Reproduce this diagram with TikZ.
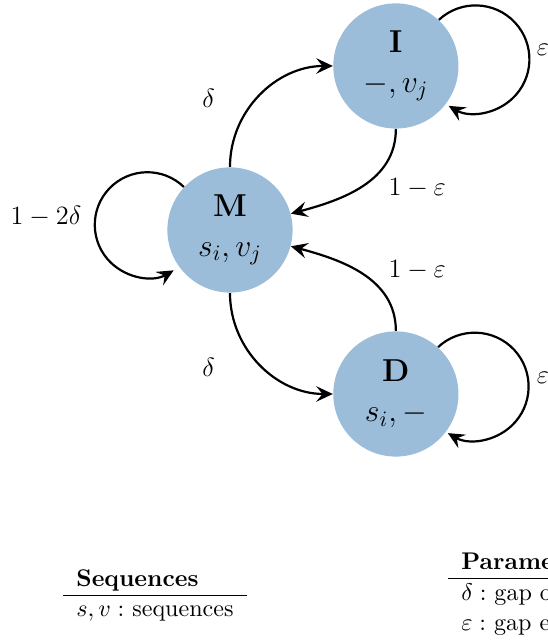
\documentclass[tikz,border=0pt]{standalone}
\usetikzlibrary{arrows.meta}
\definecolor{stateblue}{RGB}{155,189,217}
\begin{document}
\begin{tikzpicture}[
  state/.style={circle, fill=stateblue, minimum size=2cm, inner sep=0pt, align=center, font=\Large},
  trans/.style={line width=1pt, -{Stealth[length=7.5pt,width=7pt,inset=2.8pt]}},
  lbl/.style={font=\large},
  tbl/.style={inner sep=0pt, font=\fontsize{10.95}{13.6}\selectfont},
]
\clip (-3.674,-6.55) rectangle (5.08,3.674);
\useasboundingbox (-3.674,-6.55) rectangle (5.08,3.674);

\node[state] (M) at (0,0) {\textbf{M}\\ $s_i, v_j$};
\node[state] (I) at (2.65,2.62) {\textbf{I}\\ $-, v_j$};
\node[state] (D) at (2.65,-2.62) {\textbf{D}\\ $s_i, -$};

\draw[trans] (M.north) to[out=90, in=180] (I.west);
\draw[trans] (I.south) to[out=-90, in=15] (M.15);
\draw[trans] (D.north) to[out=90, in=-15] (M.-15);
\draw[trans] (M.south) to[out=-90, in=180] (D.west);

\draw[trans] (M.137) arc[start angle=46, end angle=300, radius=0.84];
\draw[trans] (I.47) arc[start angle=133, end angle=-120, radius=0.86];
\draw[trans] (D.48) arc[start angle=133, end angle=-120, radius=0.86];

\node[lbl] (l1) at (-0.34,2.11) {$\delta$};
\node[lbl] (l2) at (2.99,0.67) {$1-\varepsilon$};
\node[lbl] (l3) at (2.99,-0.64) {$1-\varepsilon$};
\node[lbl] (l4) at (-0.34,-2.19) {$\delta$};
\node[lbl] (l5) at (-2.94,0.21) {$1-2\delta$};
\node[lbl, anchor=west] (l6) at ([xshift=2.13cm,yshift=0.26cm]I.center) {$\varepsilon$};
\node[lbl, anchor=west] (l7) at ([xshift=2.13cm,yshift=0.26cm]D.center) {$\varepsilon$};

\node[tbl] (seq) at (-1.198,-5.84) {\begin{tabular}{l}\textbf{Sequences}\\\hline $s, v:$ sequences\end{tabular}};
\node[tbl, anchor=west] (par) at (3.48,-5.81) {\begin{tabular}{l}\textbf{Parameters}\\\hline $\delta:$ gap open\\ $\varepsilon:$ gap extend\end{tabular}};
\end{tikzpicture}
\end{document}
